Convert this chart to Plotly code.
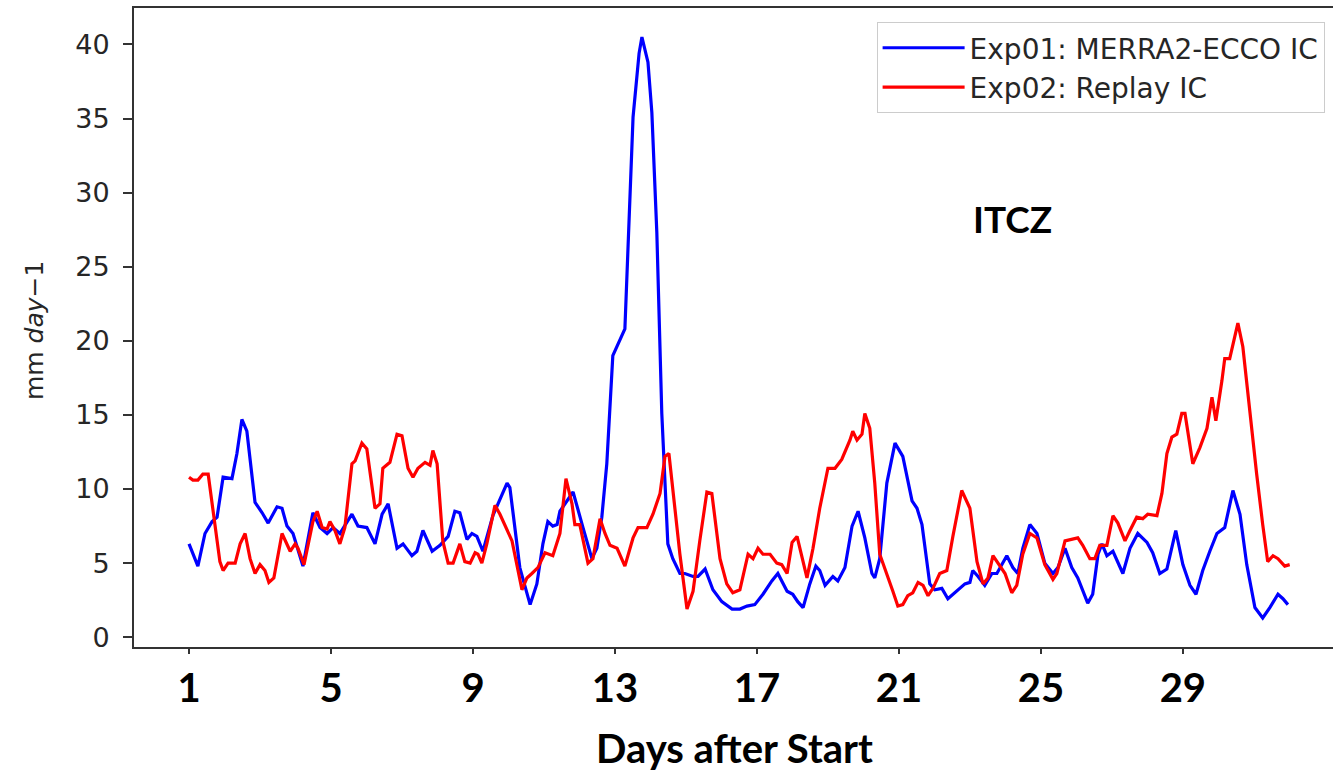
import plotly.graph_objects as go

# ---- data ----
blue_days = [1.00, 1.25, 1.45, 1.65, 1.79, 1.96, 2.21, 2.35, 2.49, 2.63, 2.86, 3.06, 3.23, 3.48, 3.62, 3.76, 3.93, 4.21,
             4.49, 4.69, 4.89, 5.06, 5.25, 5.59, 5.76, 6.01, 6.24, 6.44, 6.61, 6.86, 7.03, 7.28, 7.42, 7.59, 7.85, 8.07,
             8.30, 8.49, 8.63, 8.83, 8.97, 9.11, 9.28, 9.56, 9.76, 9.96, 10.04, 10.32, 10.61, 10.80, 10.97, 11.11,
             11.25, 11.37, 11.45, 11.65, 11.82, 12.10, 12.35, 12.49, 12.63, 12.77, 12.94, 13.28, 13.51, 13.68, 13.76,
             13.93, 14.04, 14.18, 14.32, 14.49, 14.63, 14.83, 14.97, 15.20, 15.34, 15.54, 15.76, 16.01, 16.30, 16.52,
             16.72, 16.94, 17.17, 17.42, 17.59, 17.85, 18.01, 18.15, 18.30, 18.49, 18.66, 18.77, 18.92, 19.14, 19.28,
             19.48, 19.68, 19.85, 20.04, 20.24, 20.32, 20.46, 20.66, 20.89, 21.11, 21.37, 21.51, 21.65, 21.87, 22.01,
             22.21, 22.38, 22.63, 22.86, 23.00, 23.08, 23.23, 23.42, 23.62, 23.76, 24.04, 24.21, 24.35, 24.49, 24.69,
             24.89, 25.11, 25.34, 25.48, 25.68, 25.87, 26.04, 26.32, 26.46, 26.61, 26.72, 26.86, 27.03, 27.31, 27.51,
             27.73, 27.99, 28.15, 28.35, 28.55, 28.80, 29.00, 29.20, 29.37, 29.56, 29.76, 29.96, 30.18, 30.41, 30.61,
             30.80, 31.03, 31.25, 31.45, 31.68, 31.82, 31.96]
exp01_merra2_ecco = [6.3, 4.8, 7.0, 7.8, 8.1, 10.8, 10.7, 12.4, 14.7, 13.9, 9.1, 8.4, 7.7, 8.8, 8.7, 7.5, 7.0, 4.8,
                     8.4, 7.4, 7.0, 7.4, 7.0, 8.3, 7.5, 7.4, 6.3, 8.3, 9.0, 6.0, 6.3, 5.5, 5.8, 7.2, 5.8, 6.2,
                     6.8, 8.5, 8.4, 6.6, 7.0, 6.8, 5.8, 8.2, 9.3, 10.4, 10.1, 4.7, 2.2, 3.6, 6.3, 7.8,
                     7.5, 7.6, 8.5, 9.2, 9.8, 7.4, 5.3, 6.0, 8.1, 11.7, 19.0, 20.8, 35.1, 39.4, 40.5,
                     38.8, 35.4, 27.3, 15.1, 6.3, 5.3, 4.3, 4.3, 4.1, 4.1, 4.6, 3.2, 2.4, 1.9, 1.9,
                     2.1, 2.2, 2.9, 3.8, 4.3, 3.1, 2.9, 2.4, 2.0, 3.6, 4.8, 4.5, 3.5, 4.1, 3.8,
                     4.7, 7.5, 8.5, 6.7, 4.3, 4.0, 5.3, 10.4, 13.1, 12.2, 9.2, 8.7, 7.6, 3.6, 3.2,
                     3.3, 2.6, 3.1, 3.6, 3.7, 4.5, 4.1, 3.5, 4.3, 4.3, 5.5, 4.7, 4.3, 6.0, 7.6,
                     7.0, 5.0, 4.3, 4.7, 6.0, 4.7, 4.0, 2.3, 2.9, 5.6, 6.3, 5.5, 5.8, 4.3, 6.0,
                     7.0, 6.4, 5.7, 4.3, 4.6, 7.2, 4.9, 3.5, 2.9, 4.5, 5.8, 7.0, 7.4, 9.9, 8.3,
                     4.9, 2.0, 1.3, 2.0, 2.9, 2.6, 2.2]

red_days = [1.00, 1.11, 1.25, 1.39, 1.54, 1.73, 1.87, 1.96, 2.10, 2.30, 2.44, 2.58, 2.72, 2.86, 3.00, 3.14, 3.25, 3.39,
            3.62, 3.85, 3.99, 4.07, 4.24, 4.49, 4.61, 4.75, 4.89, 4.97, 5.11, 5.25, 5.39, 5.59, 5.68, 5.87, 6.01, 6.24,
            6.38, 6.46, 6.66, 6.86, 7.00, 7.17, 7.31, 7.45, 7.65, 7.79, 7.87, 7.99, 8.15, 8.30, 8.44, 8.63, 8.77, 8.92,
            9.06, 9.14, 9.25, 9.39, 9.62, 9.76, 9.96, 10.10, 10.38, 10.52, 10.66, 10.83, 11.03, 11.25, 11.45, 11.62,
            11.79, 11.87, 12.01, 12.24, 12.38, 12.58, 12.72, 12.86, 13.06, 13.28, 13.51, 13.65, 13.90, 14.07, 14.27,
            14.41, 14.52, 14.63, 14.83, 15.03, 15.20, 15.39, 15.59, 15.73, 15.96, 16.15, 16.32, 16.52, 16.66, 16.75,
            16.89, 17.03, 17.17, 17.37, 17.56, 17.70, 17.85, 17.99, 18.13, 18.27, 18.41, 18.58, 18.77, 19.00, 19.20,
            19.39, 19.62, 19.70, 19.82, 19.96, 20.04, 20.18, 20.32, 20.46, 20.66, 20.83, 20.97, 21.11, 21.25, 21.39,
            21.54, 21.68, 21.82, 21.96, 22.15, 22.35, 22.52, 22.77, 23.00, 23.20, 23.37, 23.51, 23.65, 23.79, 23.99,
            24.18, 24.32, 24.49, 24.69, 24.89, 25.11, 25.34, 25.45, 25.68, 25.87, 26.04, 26.18, 26.38, 26.52, 26.66,
            26.86, 27.03, 27.17, 27.37, 27.51, 27.70, 27.87, 28.01, 28.27, 28.41, 28.55, 28.69, 28.83, 28.97, 29.06,
            29.28, 29.48, 29.68, 29.82, 29.93, 30.10, 30.18, 30.32, 30.55, 30.69, 30.89, 31.08, 31.25, 31.39, 31.54,
            31.68, 31.87, 32.01]
exp02_replay = [10.8, 10.6, 10.6, 11.0, 11.0, 7.8, 5.1, 4.5, 5.0, 5.0, 6.3, 7.0, 5.3, 4.3, 4.9, 4.5, 3.7, 4.0,
                7.0, 5.8, 6.3, 6.0, 4.9, 7.8, 8.5, 7.4, 7.3, 7.8, 7.2, 6.3, 7.4, 11.7, 11.9, 13.1, 12.7, 8.7,
                9.0, 11.4, 11.8, 13.7, 13.6, 11.4, 10.8, 11.4, 11.8, 11.6, 12.6, 11.7, 6.5, 5.0, 5.0, 6.3, 5.1, 5.0,
                5.7, 5.6, 5.0, 6.3, 8.9, 8.3, 7.2, 6.5, 3.2, 4.0, 4.3, 4.7, 5.7, 5.5, 7.0, 10.7,
                9.0, 7.6, 7.6, 5.0, 5.3, 8.0, 7.0, 6.2, 6.0, 4.8, 6.7, 7.4, 7.4, 8.3, 9.7,
                12.2, 12.4, 9.9, 5.6, 1.9, 3.1, 6.5, 9.8, 9.7, 5.3, 3.6, 3.0, 3.2, 4.7, 5.6,
                5.3, 6.0, 5.6, 5.6, 5.0, 4.9, 4.3, 6.4, 6.8, 5.3, 4.0, 6.0, 8.7, 11.4, 11.4,
                12.0, 13.3, 13.9, 13.3, 13.7, 15.1, 14.1, 10.4, 5.6, 4.3, 3.1, 2.1, 2.2, 2.8, 3.0,
                3.7, 3.5, 2.8, 3.3, 4.3, 4.5, 6.8, 9.9, 8.7, 5.1, 3.6, 4.0, 5.5, 5.0, 4.3,
                3.0, 3.5, 5.6, 7.0, 6.7, 4.9, 3.9, 4.3, 6.5, 6.6, 6.7, 6.2, 5.3, 5.3, 6.2,
                6.2, 8.2, 7.7, 6.5, 7.2, 8.1, 8.0, 8.3, 8.2, 9.7, 12.4, 13.5, 13.7, 15.1, 15.1,
                11.7, 12.8, 14.1, 16.2, 14.6, 17.3, 18.8, 18.8, 21.2, 19.6, 15.1, 11.0, 7.6, 5.1, 5.5,
                5.3, 4.8, 4.9]

x_ticks = [1, 5, 9, 13, 17, 21, 25, 29]
y_ticks = [0, 5, 10, 15, 20, 25, 30, 35, 40]
series_names = ["Exp01: MERRA2-ECCO IC", "Exp02: Replay IC"]

assert len(blue_days) == len(exp01_merra2_ecco), (len(blue_days), len(exp01_merra2_ecco))
assert len(red_days) == len(exp02_replay), (len(red_days), len(exp02_replay))

fig = go.Figure()
fig.add_trace(go.Scatter(x=blue_days, y=exp01_merra2_ecco, mode="lines", name=series_names[0],
                         line=dict(color="#0000ff", width=3.2)))
fig.add_trace(go.Scatter(x=red_days, y=exp02_replay, mode="lines", name=series_names[1],
                         line=dict(color="#ff0000", width=3.2)))

axis_color = "#333333"
fig.update_layout(
    width=1333, height=775,
    margin=dict(l=134, r=0, t=8, b=128),
    plot_bgcolor="white", paper_bgcolor="white",
    showlegend=True,
    legend=dict(x=0.993, y=0.978, xanchor="right", yanchor="top",
                bordercolor="#cccccc", borderwidth=1, bgcolor="white",
                font=dict(family="DejaVu Sans", size=28, color="#262626"),
                itemwidth=82, tracegroupgap=0),
    xaxis=dict(range=[-0.55, 33.23], tickmode="array", tickvals=x_ticks,
               ticktext=[str(t) for t in x_ticks],
               tickfont=dict(family="Lato", size=40, color="black", weight="bold"),
               ticks="outside", ticklen=5, tickwidth=1.5, tickcolor=axis_color,
               showline=True, linecolor=axis_color, linewidth=2, mirror=True,
               showgrid=False, zeroline=False),
    yaxis=dict(range=[-0.66, 42.46], tickmode="array", tickvals=y_ticks,
               tickfont=dict(family="DejaVu Sans", size=27, color="#262626"),
               ticks="outside", ticklen=9, tickwidth=1.5, tickcolor=axis_color,
               ticklabelstandoff=8,
               showline=True, linecolor=axis_color, linewidth=2, mirror=False,
               showgrid=False, zeroline=False),
    annotations=[
        dict(text="ITCZ", x=0.733, y=0.671, xref="paper", yref="paper", showarrow=False,
             xanchor="center", yanchor="middle",
             font=dict(family="Lato", size=37, color="black", weight="bold")),
        dict(text="Days after Start", x=0.501, y=-0.158, xref="paper", yref="paper", showarrow=False,
             xanchor="center", yanchor="middle",
             font=dict(family="Lato", size=40, color="black", weight="bold")),
        dict(text="mm <i>day</i>\u22121", x=-0.0834, y=0.496, xref="paper", yref="paper", showarrow=False,
             xanchor="center", yanchor="middle", textangle=-90,
             font=dict(family="DejaVu Sans", size=25, color="#262626")),
    ],
)

fig.write_html("out.html")
